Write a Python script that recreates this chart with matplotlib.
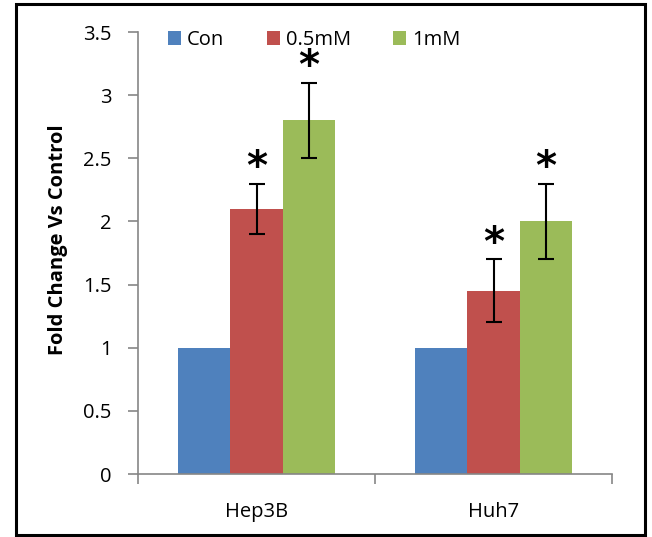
import numpy as np
import matplotlib.pyplot as plt
from matplotlib.patches import Rectangle

plt.rcParams['font.family'] = ['Open Sans', 'DejaVu Sans']

cell_lines = ["Hep3B", "Huh7"]
groups = ["Con", "0.5mM", "1mM"]
con = [1.0, 1.0]
mid = [2.1, 1.45]
high = [2.8, 2.0]
con_err = [0, 0]
mid_err = [0.2, 0.25]
high_err = [0.3, 0.3]
colors = ["#4F81BD", "#C0504D", "#9BBB59"]

fig = plt.figure(figsize=(6.52, 5.37), dpi=100)
ax = fig.add_axes([0.2117, 0.1173, 0.7270, 0.8231])

x = np.arange(len(cell_lines))
w = 0.222
series = [(con, con_err), (mid, mid_err), (high, high_err)]
for i, (vals, errs) in enumerate(series):
    pos = x + (i - 1) * w
    ax.bar(pos, vals, width=w, color=colors[i], label=groups[i], zorder=2)
    if i > 0:
        ax.errorbar(pos, vals, yerr=errs, fmt='none', ecolor='black',
                    elinewidth=1.5, capsize=5.5, capthick=1.5, zorder=3)
        for p, v, e in zip(pos, vals, errs):
            ax.text(p, v + e + 0.12, "*", ha='center', va='center',
                    fontsize=29, fontweight='bold', family='DejaVu Sans')

ax.set_xlim(-0.5, 1.5)
ax.set_ylim(0, 3.5)
ax.set_yticks(np.arange(0, 3.51, 0.5))
ax.set_yticklabels(["0", "0.5", "1", "1.5", "2", "2.5", "3", "3.5"])
ax.set_xticks(x)
ax.set_xticklabels(cell_lines)
ax.set_xticks([-0.5, 0.5, 1.5], minor=True)
ax.tick_params(axis='x', which='major', length=0, pad=20, labelsize=14.5)
ax.tick_params(axis='x', which='minor', length=7, color='#868686', width=1.2)
ax.tick_params(axis='y', length=7, color='#868686', width=1.2, labelsize=14.5, pad=12)

for s in ['top', 'right']:
    ax.spines[s].set_visible(False)
for s in ['left', 'bottom']:
    ax.spines[s].set_color('#868686')
    ax.spines[s].set_linewidth(1.2)

ax.set_ylabel("Fold Change Vs Control", fontsize=14.5, fontweight='bold')
ax.yaxis.set_label_coords(-0.148, 0.53)

ax.legend(loc='upper left', bbox_to_anchor=(0.025, 1.045), ncol=3, frameon=False,
          fontsize=14.5, handlelength=0.65, handleheight=0.65, handletextpad=0.3,
          columnspacing=2.1)

fig.patches.append(Rectangle((16 / 652, 2 / 537), 629 / 652, 531 / 537,
                             transform=fig.transFigure, fill=False,
                             edgecolor='black', linewidth=2.2))

fig.savefig("out.png", dpi=100)
